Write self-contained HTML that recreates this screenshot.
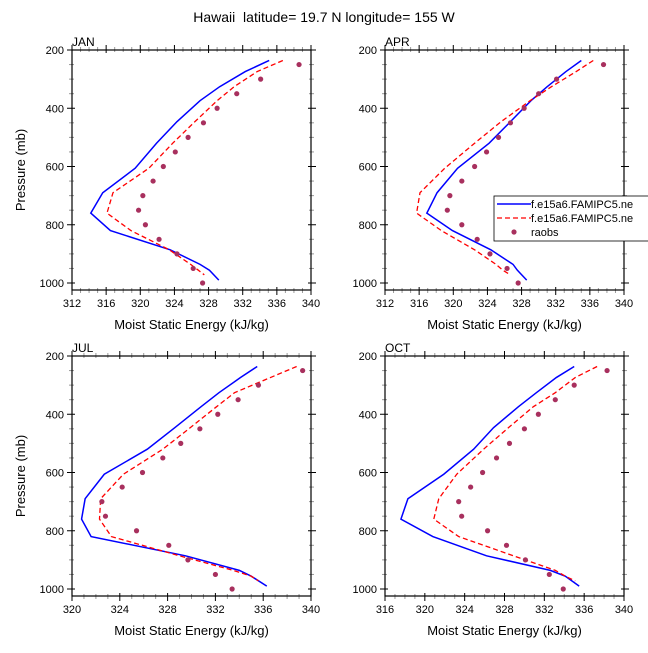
<!DOCTYPE html>
<html><head><meta charset="utf-8"><style>
body{margin:0;background:#fff;}
svg text{font-family:"Liberation Sans",sans-serif;fill:#000;white-space:pre;}
</style></head><body>
<svg id="chart" width="648" height="648" viewBox="0 0 648 648">
<text x="324" y="22" text-anchor="middle" font-size="14">Hawaii  latitude= 19.7 N longitude= 155 W</text>
</svg>
<script>
const modelLev=[236,274,326,374,446,520,606,690,760,820,886,936,956,990];
const redLev=[236,274,326,374,446,520,606,690,760,820,886,936,956,972];
const obsLev=[250,300,350,400,450,500,550,600,650,700,750,800,850,900,950,1000];
const janBlue=[335.1,332.3,329.3,327.0,324.3,321.9,319.4,315.6,314.2,316.5,323.5,327.0,328.1,329.2];
const janRed=[336.7,333.7,331.0,329.0,326.4,323.8,321.0,316.8,316.1,318.9,323.4,325.9,326.8,327.5];
const janObs=[338.6,334.1,331.3,329.0,327.4,325.6,324.1,322.7,321.5,320.3,319.8,320.6,322.2,324.3,326.2,327.3];
const aprBlue=[335.0,333.2,331.0,329.1,326.7,324.2,320.5,318.1,316.9,319.9,324.4,327.0,327.5,328.6];
const aprRed=[336.4,334.4,331.5,329.0,325.6,322.5,319.0,316.1,315.7,318.6,322.5,325.0,325.8,326.7];
const aprObs=[337.6,332.1,330.0,328.3,326.7,325.3,323.9,322.5,321.0,319.6,319.3,321.0,322.8,324.3,326.3,327.6];
const julBlue=[335.5,334.1,332.3,330.8,328.6,326.3,322.7,321.1,320.8,321.6,329.5,334.0,335.0,336.3];
const julRed=[338.8,336.6,333.6,332.1,329.9,327.6,324.3,322.4,322.3,323.3,329.0,333.5,335.0,335.6];
const julObs=[339.3,335.6,333.9,332.2,330.7,329.1,327.6,325.9,324.2,322.5,322.8,325.4,328.1,329.7,332.0,333.4];
const octBlue=[335.0,333.2,331.2,329.4,326.9,324.9,321.9,318.3,317.6,320.8,326.2,332.6,334.1,335.5];
const octRed=[337.3,335.1,333.1,330.9,328.4,325.9,323.2,321.4,320.9,323.4,328.9,333.1,334.1,335.1];
const octObs=[338.3,335.0,333.1,331.4,330.0,328.5,327.2,325.8,324.6,323.4,323.7,326.3,328.2,330.1,332.5,333.9];
const panels=[
 {name:'JAN',x0:72,y0:50,xmin:312,xmax:340,blue:janBlue,red:janRed,obs:janObs,ylab:true},
 {name:'APR',x0:385,y0:50,xmin:312,xmax:340,blue:aprBlue,red:aprRed,obs:aprObs,ylab:false},
 {name:'JUL',x0:72,y0:356,xmin:320,xmax:340,blue:julBlue,red:julRed,obs:julObs,ylab:true},
 {name:'OCT',x0:385,y0:356,xmin:316,xmax:340,blue:octBlue,red:octRed,obs:octObs,ylab:false}
];
const W=239,H=240,PMIN=200,PMAX=1024;
const NS='http://www.w3.org/2000/svg';
const svg=document.getElementById('chart');
function mk(tag,attrs,parent){const e=document.createElementNS(NS,tag);for(const k in attrs)e.setAttribute(k,attrs[k]);(parent||svg).appendChild(e);return e;}
panels.forEach(p=>{
 const g=mk('g',{});
 
 
 const xs=v=>p.x0+(v-p.xmin)/(p.xmax-p.xmin)*W;
 const ys=v=>p.y0+(v-PMIN)/(PMAX-PMIN)*H;
 const lab=mk('text',{x:p.x0,y:p.y0-4,'font-size':12},g);lab.textContent=p.name;
 
 
 for(let v=p.xmin;v<=p.xmax;v++){const x=xs(v);const maj=(v%4===0);
  const c=maj?'#000':'#999';const o=maj?5:3,i=maj?3:2;
  mk('line',{x1:x,x2:x,y1:p.y0+H-i,y2:p.y0+H+o,stroke:c,'stroke-width':1},g);
  mk('line',{x1:x,x2:x,y1:p.y0-o,y2:p.y0+i,stroke:c,'stroke-width':1},g);
  if(maj){const t=mk('text',{x:x,y:p.y0+H+17,'font-size':11,'text-anchor':'middle'},g);t.textContent=v;
   
   }
 }
 for(let v=200;v<=1000;v+=50){const y=ys(v);const maj=(v%200===0);
  const c=maj?'#000':'#999';const o=maj?5:3,i=maj?3:2;
  mk('line',{x1:p.x0-o,x2:p.x0+i,y1:y,y2:y,stroke:c,'stroke-width':1},g);
  mk('line',{x1:p.x0+W-i,x2:p.x0+W+o,y1:y,y2:y,stroke:c,'stroke-width':1},g);
  if(maj){const t=mk('text',{x:p.x0-8,y:y+4,'font-size':11,'text-anchor':'end'},g);t.textContent=v;
   
   }
 }
 const fr=mk('rect',{x:p.x0,y:p.y0,width:W,height:H,fill:'none',stroke:'#000','stroke-width':1.2},g);
 
 
 const xt=mk('text',{x:p.x0+W/2,y:p.y0+H+39,'font-size':13,'text-anchor':'middle'},g);xt.textContent='Moist Static Energy (kJ/kg)';
 
 
 if(p.ylab){const yt=mk('text',{x:0,y:0,'font-size':13,'text-anchor':'middle',transform:`translate(25,${p.y0+H/2}) rotate(-90)`},g);yt.textContent='Pressure (mb)';
  
  }
 const bl=mk('polyline',{points:p.blue.map((v,i)=>xs(v)+','+ys(modelLev[i])).join(' '),fill:'none',stroke:'#0000ff','stroke-width':1.5},g);
 
 
 const rl=mk('polyline',{points:p.red.map((v,i)=>xs(v)+','+ys(redLev[i])).join(' '),fill:'none',stroke:'#ff0000','stroke-width':1.3,'stroke-dasharray':'5,3'},g);
 
 
 p.obs.forEach((v,i)=>{const c=mk('circle',{cx:xs(v),cy:ys(obsLev[i]),r:2.6,fill:'#a8305e'},g);
  
  });
});
const lg=mk('g',{});


mk('rect',{x:494,y:196,width:160,height:45,fill:'#fff',stroke:'#000','stroke-width':0.8},lg);
const e1=mk('line',{x1:497,x2:531,y1:204,y2:204,stroke:'#0000ff','stroke-width':1.5},lg);


const e2=mk('line',{x1:497,x2:531,y1:218,y2:218,stroke:'#ff0000','stroke-width':1.3,'stroke-dasharray':'5,3'},lg);


const e3=mk('circle',{cx:514,cy:232,r:2.6,fill:'#a8305e'},lg);


[['f.e15a6.FAMIPC5.ne',208],['f.e15a6.FAMIPC5.ne',222],['raobs',236]].forEach(([t,y])=>{const e=mk('text',{x:531,y:y,'font-size':11},lg);e.textContent=t;
 
 });
</script>
</body></html>
